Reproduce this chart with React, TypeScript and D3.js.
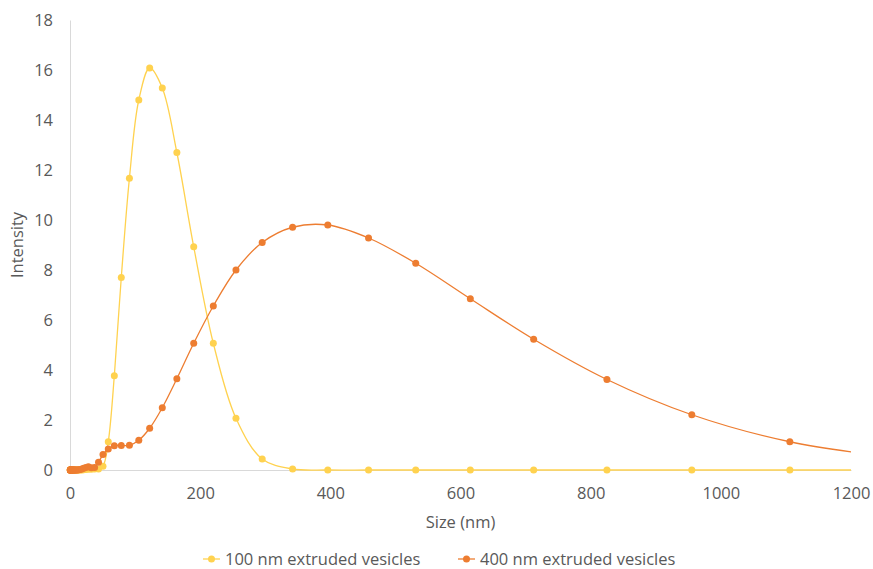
import React, { useRef, useEffect } from 'react'
import * as d3 from 'd3'

const WIDTH = 873
const HEIGHT = 569
const MARGIN = { top: 20, right: 22, bottom: 99, left: 70 }

// size bins (nm)
const sizes = [
  0.4, 0.46, 0.53, 0.61, 0.71, 0.82, 0.96, 1.1, 1.3, 1.5, 1.7, 2.0, 2.3, 2.7,
  3.1, 3.6, 4.2, 4.8, 5.6, 6.5, 7.5, 8.7, 10.1, 11.7, 13.5, 15.7, 18.2, 21.0,
  24.4, 28.2, 32.7, 37.8, 43.8, 50.7, 58.8, 68.1, 78.8, 91.3, 105.7, 122.4,
  141.8, 164.2, 190.1, 220.2, 255.0, 295.3, 342.0, 396.1, 458.7, 531.2, 615.1,
  712.4, 825.0, 955.4, 1106, 1281
]

const vesicles100 = [
  0, 0, 0, 0, 0, 0, 0, 0, 0, 0, 0, 0, 0, 0,
  0, 0, 0, 0, 0, 0, 0, 0, 0, 0, 0, 0, 0, 0.01,
  0.02, 0.03, 0.03, 0.04, 0.04, 0.15, 1.13, 3.77, 7.7, 11.67, 14.8, 16.08,
  15.28, 12.7, 8.93, 5.07, 2.07, 0.44, 0.04, 0, 0, 0, 0,
  0, 0, 0, 0, 0
]

const vesicles400 = [
  0, 0, 0, 0, 0, 0, 0, 0, 0, 0, 0, 0, 0, 0,
  0, 0, 0, 0, 0, 0, 0, 0, 0, 0, 0.01, 0.02, 0.04, 0.07,
  0.1, 0.13, 0.09, 0.1, 0.31, 0.62, 0.84, 0.97, 0.98, 0.99, 1.19, 1.67,
  2.49, 3.65, 5.07, 6.56, 8.0, 9.1, 9.71, 9.8, 9.28, 8.27, 6.85,
  5.23, 3.62, 2.21, 1.13, 0.45
]

const xTicks = [0, 200, 400, 600, 800, 1000, 1200]
const yTicks = [0, 2, 4, 6, 8, 10, 12, 14, 16, 18]

const series = [
  { name: '100 nm extruded vesicles', values: vesicles100, color: '#FFD24F' },
  { name: '400 nm extruded vesicles', values: vesicles400, color: '#ED7D31' }
]

const FONT = '"Open Sans", "Liberation Sans", sans-serif'
const TEXT = '#595959'
const FS = 16.5

const App = () => {
  const ref = useRef<SVGSVGElement>(null)

  useEffect(() => {
    const svg = d3.select(ref.current)
    svg.selectAll('*').remove()

    const x = d3
      .scaleLinear()
      .domain([0, 1200])
      .range([MARGIN.left, WIDTH - MARGIN.right])
    const y = d3
      .scaleLinear()
      .domain([0, 18])
      .range([HEIGHT - MARGIN.bottom, MARGIN.top])

    svg
      .append('defs')
      .append('clipPath')
      .attr('id', 'plot')
      .append('rect')
      .attr('x', MARGIN.left - 6)
      .attr('y', 0)
      .attr('width', x(1200) - MARGIN.left + 6)
      .attr('height', HEIGHT)

    // axes
    const yAxis = svg
      .append('g')
      .attr('transform', `translate(${MARGIN.left},0)`)
      .call(d3.axisLeft(y).tickValues(yTicks).tickSize(0).tickPadding(17))
    yAxis.select('.domain').attr('stroke', '#D9D9D9')

    const xAxis = svg
      .append('g')
      .attr('transform', `translate(0,${y(0)})`)
      .call(
        d3
          .axisBottom(x)
          .tickValues(xTicks)
          .tickFormat(d3.format('d'))
          .tickSize(0)
          .tickPadding(17)
      )
    xAxis.select('.domain').attr('stroke', '#D9D9D9')

    svg
      .selectAll('.tick text')
      .attr('fill', TEXT)
      .attr('font-family', FONT)
      .attr('font-size', FS)

    svg
      .append('text')
      .attr('transform', `translate(23,${(y(0) + y(18)) / 2}) rotate(-90)`)
      .attr('text-anchor', 'middle')
      .attr('fill', TEXT)
      .attr('font-family', FONT)
      .attr('font-size', FS)
      .text('Intensity')

    svg
      .append('text')
      .attr('x', (x(0) + x(1200)) / 2)
      .attr('y', 528)
      .attr('text-anchor', 'middle')
      .attr('fill', TEXT)
      .attr('font-family', FONT)
      .attr('font-size', FS)
      .text('Size (nm)')

    const line = d3
      .line<number>()
      .x((d, i) => x(sizes[i]))
      .y(d => y(d))
      .curve(d3.curveCatmullRom.alpha(0.5))

    const plot = svg.append('g').attr('clip-path', 'url(#plot)')

    series.forEach(s => {
      plot
        .append('path')
        .datum(s.values)
        .attr('fill', 'none')
        .attr('stroke', s.color)
        .attr('stroke-width', 1.3)
        .attr('d', line)
    })

    series.forEach(s => {
      plot
        .append('g')
        .selectAll('circle')
        .data(s.values)
        .join('circle')
        .attr('cx', (d, i) => x(sizes[i]))
        .attr('cy', d => y(d))
        .attr('r', 3.5)
        .attr('fill', s.color)
    })

    // legend
    const legendX = [203, 458]
    const legend = svg
      .append('g')
      .selectAll('g')
      .data(series)
      .join('g')
      .attr('transform', (d, i) => `translate(${legendX[i]},559)`)

    legend
      .append('line')
      .attr('x1', 0)
      .attr('x2', 17)
      .attr('stroke', d => d.color)
      .attr('stroke-width', 1.3)
    legend
      .append('circle')
      .attr('cx', 8.5)
      .attr('r', 3.5)
      .attr('fill', d => d.color)
    legend
      .append('text')
      .attr('x', 22)
      .attr('dy', '0.35em')
      .attr('fill', TEXT)
      .attr('font-family', FONT)
      .attr('font-size', 16.5)
      .text(d => d.name)
  }, [])

  return (
    <svg
      ref={ref}
      width={WIDTH}
      height={HEIGHT}
      style={{ position: 'absolute', left: 0, top: 0, background: '#fff' }}
    />
  )
}

export default App
